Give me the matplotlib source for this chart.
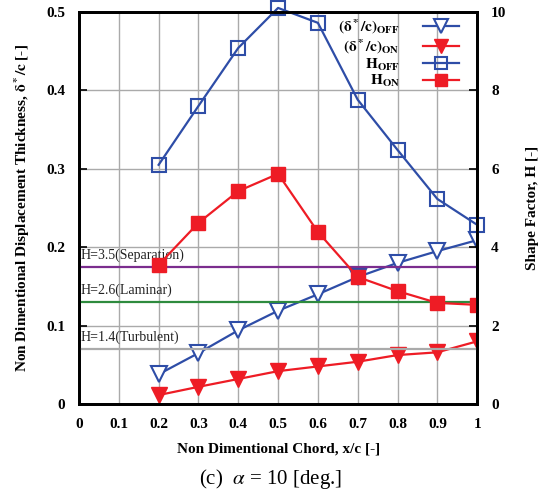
import matplotlib
matplotlib.use("Agg")
import matplotlib.pyplot as plt
from matplotlib.ticker import FixedLocator

plt.rcParams['font.family'] = ['Liberation Serif', 'DejaVu Serif']
plt.rcParams['mathtext.fontset'] = 'stix'

# Chordwise stations
x_c = [0.2, 0.3, 0.4, 0.5, 0.6, 0.7, 0.8, 0.9, 1.0]

# Displacement thickness delta*/c
delta_off = [0.038, 0.065, 0.094, 0.119, 0.140, 0.162, 0.180, 0.195, 0.209]
delta_on = [0.0115, 0.022, 0.032, 0.042, 0.048, 0.054, 0.0625, 0.066, 0.080]

# Shape factor H
H_off = [6.1, 7.6, 9.08, 10.1, 9.72, 7.76, 6.48, 5.23, 4.57]
H_on = [3.55, 4.62, 5.43, 5.87, 4.39, 3.24, 2.88, 2.58, 2.53]

# Reference shape-factor levels
ref_H = [3.5, 2.6, 1.4]
ref_labels = ["H=3.5(Separation)", "H=2.6(Laminar)", "H=1.4(Turbulent)"]
ref_colors = ["#7B2D8E", "#2E8B3E", "#AAAAAA"]

x_ticks = [0, 0.1, 0.2, 0.3, 0.4, 0.5, 0.6, 0.7, 0.8, 0.9, 1.0]
x_ticklabels = ["0", "0.1", "0.2", "0.3", "0.4", "0.5", "0.6", "0.7", "0.8", "0.9", "1"]
y_ticks = [0, 0.1, 0.2, 0.3, 0.4, 0.5]
y_ticklabels = ["0", "0.1", "0.2", "0.3", "0.4", "0.5"]
h_ticks = [0, 2, 4, 6, 8, 10]
h_ticklabels = ["0", "2", "4", "6", "8", "10"]

blue = "#2E4DA7"
red = "#EE1C25"

fig = plt.figure(figsize=(5.41, 4.94), dpi=100)
ax = fig.add_axes([0.146, 0.182, 0.736, 0.794])
ax2 = ax.twinx()

ax.set_xlim(0, 1)
ax.set_ylim(0, 0.5)
ax2.set_ylim(0, 10)

ax.grid(True, color="#AAAAAA", linewidth=1.0)
ax.set_axisbelow(True)

# Reference H levels drawn on the shape-factor axis
for h, lab, c in zip(ref_H, ref_labels, ref_colors):
    ax2.axhline(h, color=c, linewidth=1.6, zorder=1)
    ax2.text(0.005, h + 0.12, lab, fontsize=10, color="#222222",
             ha="left", va="bottom", zorder=1)

l1, = ax.plot(x_c, delta_off, color=blue, lw=1.6, marker="v", ms=11,
              mfc="white", mec=blue, mew=1.5, label=r"$\mathbf{(\delta^*/c)_{OFF}}$")
l2, = ax.plot(x_c, delta_on, color=red, lw=1.6, marker="v", ms=11,
              mfc=red, mec=red, label=r"$\mathbf{(\delta^*/c)_{ON}}$")
l3, = ax2.plot(x_c, H_off, color=blue, lw=1.6, marker="s", ms=10,
               mfc="none", mec=blue, mew=1.5, clip_on=False, label=r"$\mathbf{H_{OFF}}$")
l4, = ax2.plot(x_c, H_on, color=red, lw=1.6, marker="s", ms=10,
               mfc=red, mec=red, label=r"$\mathbf{H_{ON}}$")

ax.xaxis.set_major_locator(FixedLocator(x_ticks))
ax.set_xticklabels(x_ticklabels)
ax.yaxis.set_major_locator(FixedLocator(y_ticks))
ax.set_yticklabels(y_ticklabels)
ax2.yaxis.set_major_locator(FixedLocator(h_ticks))
ax2.set_yticklabels(h_ticklabels)

for a in (ax, ax2):
    for s in a.spines.values():
        s.set_linewidth(2.0)
ax.tick_params(axis="both", direction="in", length=6, width=1.2,
               labelsize=11, pad=10)
ax.tick_params(axis="x", length=0)
ax2.tick_params(axis="y", direction="in", length=6, width=1.2,
                labelsize=11, pad=10)
for lab in ax.get_xticklabels() + ax.get_yticklabels() + ax2.get_yticklabels():
    lab.set_fontweight("bold")

ax.set_xlabel("Non Dimentional Chord, x/c [-]", fontsize=11, fontweight="bold",
              labelpad=8)
ax.set_ylabel(r"Non Dimentional Displacement Thickness, $\mathbf{\delta^*/c}$ [-]",
              fontsize=11, fontweight="bold", labelpad=10)
ax2.set_ylabel("Shape Factor, H [-]", fontsize=11, fontweight="bold",
               rotation=90, labelpad=14)

leg = ax2.legend(handles=[l1, l2, l3, l4], loc="upper right",
                 bbox_to_anchor=(0.955, 0.985), frameon=False, markerfirst=False,
                 fontsize=11, handlelength=2.4, labelspacing=0.05,
                 handletextpad=1.5, borderaxespad=0.0, borderpad=0.0,
                 markerscale=0.9)
for t in leg.get_texts():
    t.set_ha("right")

fig.text(0.5, 0.03, r"(c)  $\alpha$ = 10 [deg.]", ha="center", va="center",
         fontsize=15)

fig.savefig("out.png", dpi=100)
